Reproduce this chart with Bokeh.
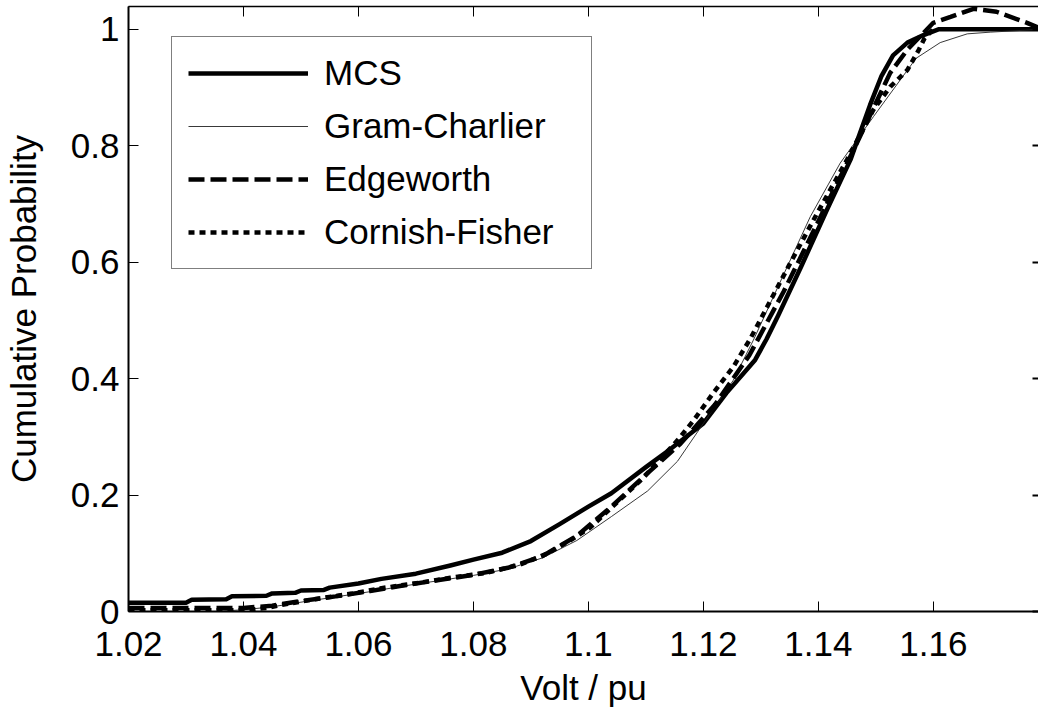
from bokeh.plotting import figure
from bokeh.models import LinearAxis, FixedTicker, Legend, LegendItem, Range1d
from bokeh.embed import file_html
from bokeh.resources import INLINE

# ---- data ----
x_ticks = [1.02, 1.04, 1.06, 1.08, 1.10, 1.12, 1.14, 1.16]
x_tick_labels = ["1.02", "1.04", "1.06", "1.08", "1.1", "1.12", "1.14", "1.16"]
y_ticks = [0.0, 0.2, 0.4, 0.6, 0.8, 1.0]
y_tick_labels = ["0", "0.2", "0.4", "0.6", "0.8", "1"]
x_title = "Volt / pu"
y_title = "Cumulative Probability"

series_names = ["MCS", "Gram-Charlier", "Edgeworth", "Cornish-Fisher"]

mcs_x = [1.020, 1.030, 1.031, 1.037, 1.038, 1.044, 1.045, 1.049, 1.050, 1.054,
         1.055, 1.060, 1.064, 1.070, 1.076, 1.080, 1.085, 1.090, 1.095, 1.100,
         1.104, 1.110, 1.114, 1.120, 1.124, 1.129, 1.131, 1.133, 1.137, 1.1415,
         1.1456, 1.147, 1.149, 1.151, 1.153, 1.1555, 1.1583, 1.161, 1.179]
mcs_y = [0.015, 0.015, 0.020, 0.021, 0.026, 0.027, 0.031, 0.032, 0.036, 0.037,
         0.041, 0.048, 0.056, 0.065, 0.079, 0.089, 0.101, 0.121, 0.150, 0.180,
         0.203, 0.248, 0.277, 0.323, 0.375, 0.432, 0.468, 0.508, 0.592, 0.690,
         0.776, 0.815, 0.870, 0.920, 0.955, 0.977, 0.990, 1.000, 1.000]

gc_x = [1.020, 1.035, 1.040, 1.045, 1.050, 1.056, 1.062, 1.068, 1.074, 1.080,
        1.086, 1.092, 1.098, 1.104, 1.1103, 1.1155, 1.120, 1.1252, 1.1287, 1.1386,
        1.1438, 1.1496, 1.157, 1.1612, 1.1659, 1.170, 1.179]
gc_y = [0.000, 0.000, 0.003, 0.008, 0.016, 0.025, 0.034, 0.044, 0.053, 0.062,
        0.073, 0.092, 0.122, 0.163, 0.207, 0.258, 0.323, 0.397, 0.466, 0.678,
        0.770, 0.850, 0.950, 0.977, 0.992, 0.995, 1.000]

ed_x = [1.020, 1.040, 1.045, 1.050, 1.056, 1.062, 1.068, 1.074, 1.080, 1.086,
        1.092, 1.098, 1.104, 1.110, 1.116, 1.122, 1.128, 1.134, 1.140, 1.146,
        1.1525, 1.1555, 1.160, 1.163, 1.167, 1.171, 1.1763, 1.179]
ed_y = [0.006, 0.006, 0.010, 0.018, 0.026, 0.035, 0.045, 0.054, 0.063, 0.075,
        0.095, 0.130, 0.180, 0.235, 0.288, 0.355, 0.440, 0.550, 0.670, 0.790,
        0.925, 0.965, 1.011, 1.021, 1.035, 1.030, 1.011, 1.000]

cf_x = [1.020, 1.040, 1.044, 1.047, 1.053, 1.059, 1.064, 1.071, 1.076, 1.082,
        1.088, 1.093, 1.0965, 1.1003, 1.1096, 1.1155, 1.1183, 1.1217, 1.1252, 1.1282,
        1.1351, 1.1398, 1.145, 1.1496, 1.1525, 1.1555, 1.1575, 1.1585, 1.160]
cf_y = [0.002, 0.002, 0.006, 0.012, 0.022, 0.031, 0.040, 0.050, 0.058, 0.066,
        0.080, 0.100, 0.120, 0.144, 0.230, 0.294, 0.328, 0.375, 0.420, 0.469,
        0.598, 0.684, 0.776, 0.862, 0.901, 0.930, 0.965, 0.985, 1.000]

FONT = "Liberation Sans"
FS = "35px"

p = figure(width=1038, height=715,
           x_range=Range1d(1.02, 1.1783), y_range=Range1d(0, 1.039),
           output_backend="svg", toolbar_location=None,
           min_border_left=128, min_border_right=0, min_border_top=6, min_border_bottom=104,
           x_axis_label=x_title, y_axis_label=y_title)
p.xgrid.visible = False
p.ygrid.visible = False
p.outline_line_color = None
p.background_fill_color = "white"
p.border_fill_color = "white"

xa = p.xaxis[0]
xa.ticker = FixedTicker(ticks=x_ticks)
xa.major_label_overrides = {t: l for t, l in zip(x_ticks, x_tick_labels)}
ya = p.yaxis[0]
ya.ticker = FixedTicker(ticks=y_ticks)
ya.major_label_overrides = {t: l for t, l in zip(y_ticks, y_tick_labels)}

for ax in (xa, ya):
    ax.axis_line_color = "black"
    ax.axis_line_width = 2
    ax.major_tick_in = 10
    ax.major_tick_out = 0
    ax.major_tick_line_color = "black"
    ax.major_tick_line_width = 1
    ax.minor_tick_line_color = None
    ax.major_label_text_font = FONT
    ax.major_label_text_font_size = FS
    ax.major_label_text_color = "black"
    ax.axis_label_text_font = FONT
    ax.axis_label_text_font_size = FS
    ax.axis_label_text_font_style = "normal"
    ax.axis_label_text_color = "black"

xa.major_label_standoff = 20
xa.axis_label_standoff = 9
ya.major_label_standoff = 9
ya.axis_label_standoff = 25

top = LinearAxis(ticker=FixedTicker(ticks=x_ticks), major_label_text_font_size="1px",
                 major_label_overrides={t: "" for t in x_ticks},
                 major_tick_in=10, major_tick_out=0, minor_tick_line_color=None,
                 major_label_standoff=0, axis_line_width=1.5, major_tick_line_width=1)
p.add_layout(top, "above")
right = LinearAxis(ticker=FixedTicker(ticks=y_ticks), major_label_text_font_size="1px",
                   major_label_overrides={t: "" for t in y_ticks},
                   major_tick_in=6, major_tick_out=0, minor_tick_line_color=None,
                   major_label_standoff=0, axis_line_color=None, major_tick_line_width=2)
p.add_layout(right, "right")

r_mcs = p.line(mcs_x, mcs_y, line_color="black", line_width=4.5, line_join="round")
r_gc = p.line(gc_x, gc_y, line_color="#222222", line_width=0.9)
r_ed = p.line(ed_x, ed_y, line_color="black", line_width=4.5, line_dash="16 6")
r_cf = p.line(cf_x, cf_y, line_color="black", line_width=4.5, line_dash="6 5")

legend = Legend(items=[LegendItem(label=n, renderers=[r]) for n, r in
                       zip(series_names, [r_mcs, r_gc, r_ed, r_cf])],
                location=(43, 342),
                padding=16, spacing=13, glyph_width=120, glyph_height=40,
                label_standoff=16, label_width=251,
                label_text_font=FONT, label_text_font_size=FS, label_text_color="black",
                border_line_color="black", border_line_width=1,
                background_fill_color="white", background_fill_alpha=1.0,
                margin=0)
p.add_layout(legend, "center")

open("out.html", "w").write(file_html(p, INLINE))
